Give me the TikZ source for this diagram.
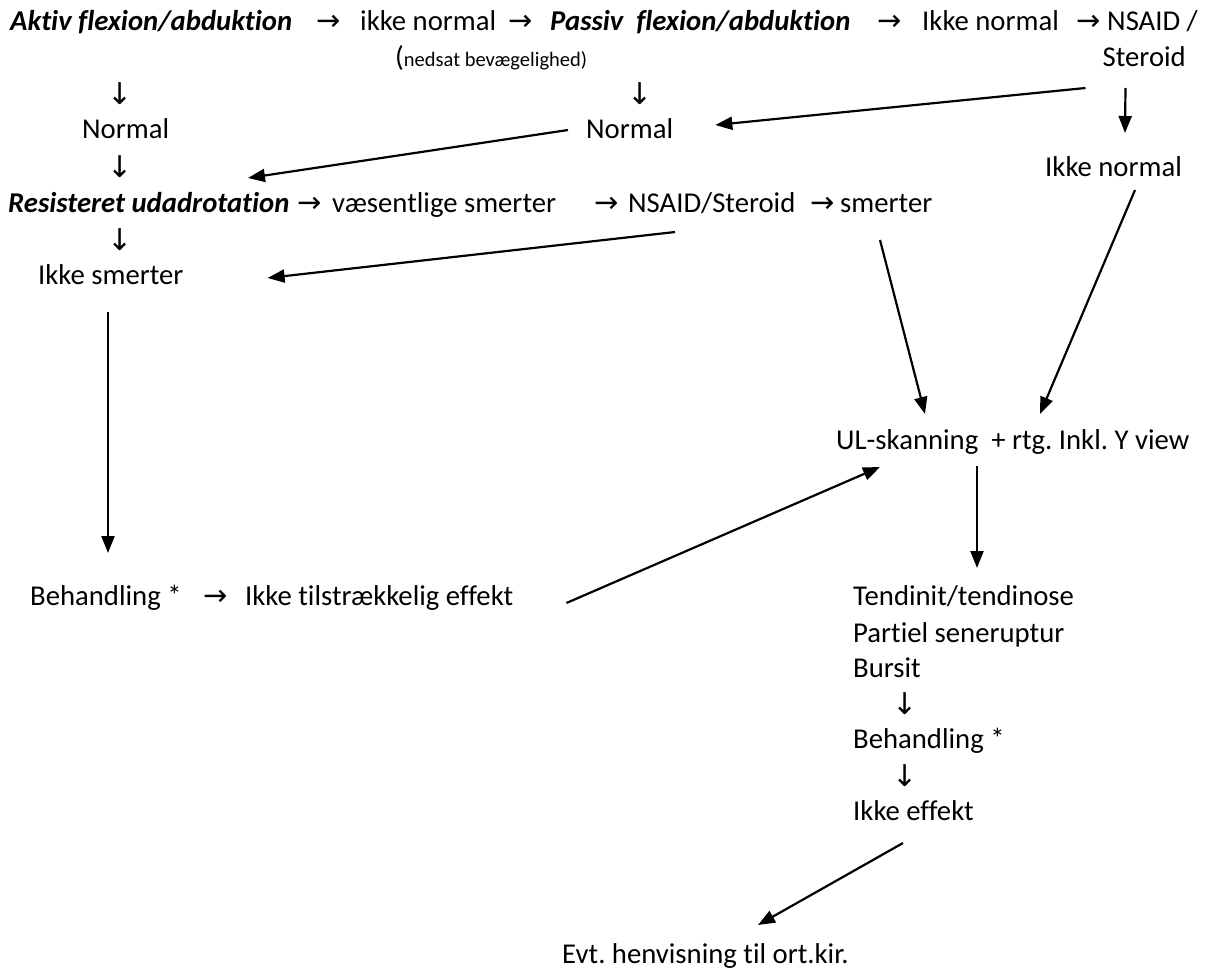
\documentclass[tikz,border=0pt]{standalone}
\usepackage{fontspec}
\setmainfont{Carlito}[Ligatures=NoCommon]
\newfontfamily\symf{DejaVu Sans}
\usetikzlibrary{arrows.meta}
\frenchspacing
\begin{document}
\begin{tikzpicture}[x=1pt,y=-1pt,
  txt/.style={inner sep=0pt,anchor=base west,font=\fontsize{28.7}{34}\selectfont\frenchspacing},
  txte/.style={inner sep=0pt,anchor=base east,font=\fontsize{28.7}{34}\selectfont},
  bi/.style={inner sep=0pt,anchor=base west,font=\fontsize{28.7}{34}\selectfont\bfseries\itshape},
  sym/.style={inner sep=0pt,anchor=base west,font=\fontsize{29}{32}\symf},
  dsym/.style={inner sep=0pt,anchor=base,font=\fontsize{30}{32}\symf},
  conn/.style={line width=2.2pt,-{Triangle[length=17pt,width=13pt]}},
]
\useasboundingbox (0,0) rectangle (1215,971);
% row 1
\node[bi]  (aktiv)  at (10,31)  {Aktiv flexion/abduktion};
\node[sym] (r1a)    at (316,31) {→};
\node[txt] (ikke1)  at (360,31) {ikke normal};
\node[sym] (r1b)    at (508,31) {→};
\node[bi]  (passiv) at (550,31) {Passiv\ \ flexion/abduktion};
\node[sym] (r1c)    at (877,31) {→};
\node[txt] (ikke2)  at (922,31) {Ikke normal};
\node[sym] (r1d)    at (1076,31) {→};
\node[txt] (nsaid)  at (1107,31) {NSAID /};
% row 2
\node[txt] (nedsat) at (395,67) {(\fontsize{20.5}{24}\selectfont nedsat bevægelighed)};
\node[txte] (steroid) at (1186,67) {Steroid};
% rows 3-5
\node[dsym] (d1) at (120,105) {↓};
\node[dsym] (d2) at (640,105) {↓};
\node[txt] (normal1) at (82,139) {Normal};
\node[txt] (normal2) at (586,139) {Normal};
\node[dsym] (d3) at (120,177) {↓};
\node[txt] (ikke3) at (1045,176) {Ikke normal};
% row resist
\node[bi]  (resist) at (8,212) {Resisteret udadrotation};
\node[sym] (r2a) at (297,212) {→};
\node[txt] (vaes) at (332,212) {væsentlige smerter};
\node[sym] (r2b) at (594,212) {→};
\node[txt] (nsaid2) at (628,212) {NSAID/Steroid};
\node[sym] (r2c) at (810,212) {→};
\node[txt] (smerter) at (840,212) {smerter};
\node[dsym] (d4) at (120,250) {↓};
\node[txt] (ikkesm) at (38,284) {Ikke smerter};
% middle
\node[txt] (ul) at (836,449) {UL-skanning\ \ + rtg. Inkl. Y view};
\node[txt] (behand1) at (30,605) {Behandling *};
\node[sym] (r3a) at (203,605) {→};
\node[txt] (ikketil) at (245,605) {Ikke tilstrækkelig effekt};
% right column
\node[txt] (tend) at (853,605) {Tendinit/tendinose};
\node[txt] (part) at (853,642) {Partiel seneruptur};
\node[txt] (bursit) at (853,677) {Bursit};
\node[dsym] (d5) at (905,714) {↓};
\node[txt] (behand2) at (853,748) {Behandling *};
\node[dsym] (d6) at (905,786) {↓};
\node[txt] (ikkeeff) at (853,820) {Ikke effekt};
\node[txt] (evt) at (562,963) {Evt. henvisning til ort.kir.};
% connectors
\draw[conn] ([shift={(-17,21)}]steroid.base west) -- ([shift={(42,-14)}]normal2.base east);
\draw[conn] ([shift={(23,21)}]steroid.base west) -- ([shift={(80,-43)}]ikke3.base west);
\draw[conn] ([shift={(-18,-9)}]normal2.base west) -- ([shift={(240,-34)}]resist.base west);
\draw[conn] ([shift={(47,20)}]nsaid2.base west) -- ([shift={(84,-6)}]ikkesm.base east);
\draw[conn] ([shift={(40,28)}]smerter.base west) -- ([shift={(89,-35)}]ul.base west);
\draw[conn] ([shift={(90,14)}]ikke3.base west) -- ([shift={(204,-35)}]ul.base west);
\draw[conn] ([shift={(70,28)}]ikkesm.base west) -- ([shift={(78,-52)}]behand1.base west);
\draw[conn] ([shift={(53,-2)}]ikketil.base east) -- ([shift={(44,18)}]ul.base west);
\draw[conn] ([shift={(141,17)}]ul.base west) -- ([shift={(124,-37)}]tend.base west);
\draw[conn] ([shift={(50,23)}]ikkeeff.base west) -- ([shift={(196,-38)}]evt.base west);
\end{tikzpicture}
\end{document}
